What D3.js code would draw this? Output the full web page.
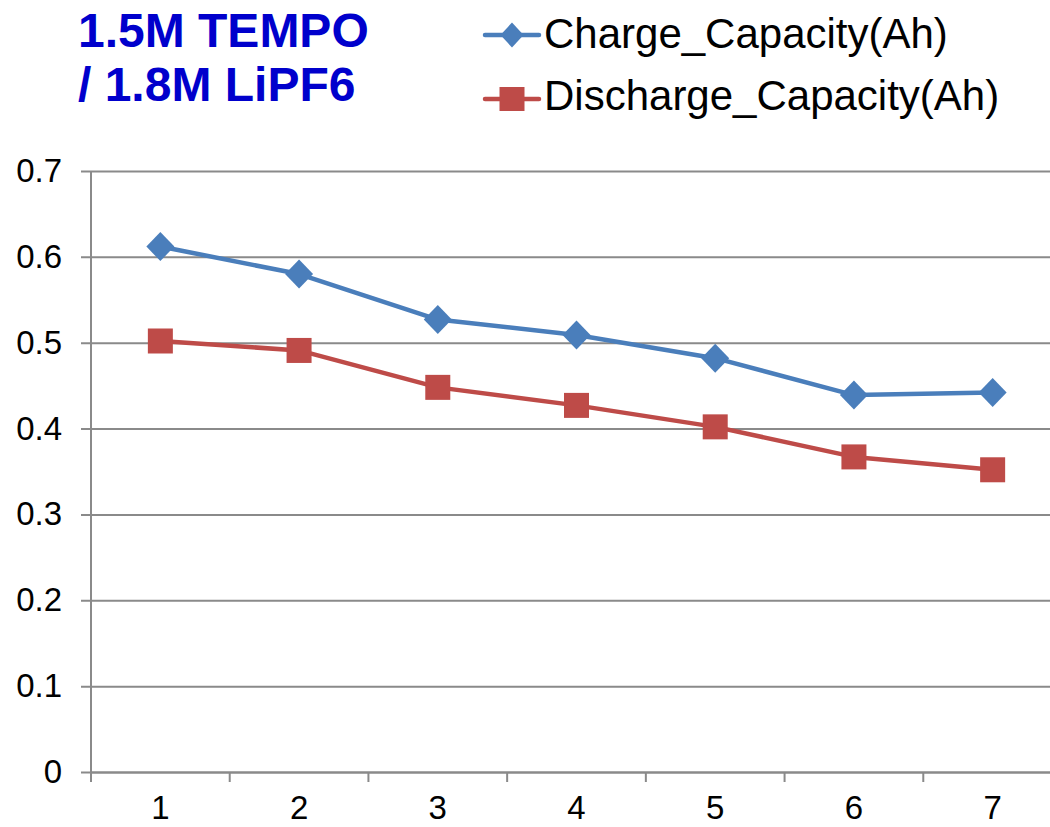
<!DOCTYPE html>
<html>
<head>
<meta charset="utf-8">
<script src="https://cdn.jsdelivr.net/npm/d3@7"></script>
<style>
  html, body { margin: 0; padding: 0; background: #fff; }
  svg { display: block; font-family: "Liberation Sans", Arial, Helvetica, sans-serif; }
</style>
</head>
<body>
<svg id="chart" width="1050" height="827"></svg>
<script>
const categories = ["1", "2", "3", "4", "5", "6", "7"];
const chargeCapacity = [0.612, 0.580, 0.527, 0.509, 0.482, 0.439, 0.442];
const dischargeCapacity = [0.502, 0.491, 0.448, 0.427, 0.402, 0.367, 0.352];
const yTicks = [0, 0.1, 0.2, 0.3, 0.4, 0.5, 0.6, 0.7];
const titleLines = ["1.5M TEMPO", "/ 1.8M LiPF6"];
const seriesNames = ["Charge_Capacity(Ah)", "Discharge_Capacity(Ah)"];

(function () {
const series = [
  { name: seriesNames[0], values: chargeCapacity, color: "#4A7EBB", shape: "diamond" },
  { name: seriesNames[1], values: dischargeCapacity, color: "#BE4B48", shape: "square" }
];

const svg = d3.select("#chart");
const pLeft = 91, pRight = 1062, pTop = 171, pBottom = 772;
const gridColor = "#8a8a8a";
const font = "'Liberation Sans', Arial, sans-serif";

const x = d3.scaleBand().domain(categories).range([pLeft, pRight]).paddingInner(0).paddingOuter(0);
const y = d3.scaleLinear().domain([0, 0.7]).range([pBottom, pTop]);

// Gridlines + y axis
const yAxis = d3.axisLeft(y).tickValues(yTicks)
  .tickFormat(d => d === 0 ? "0" : d3.format(".1f")(d))
  .tickSize(-(pRight - pLeft)).tickSizeOuter(0).tickPadding(29);
const gy = svg.append("g").attr("transform", `translate(${pLeft},0)`).call(yAxis);
gy.select(".domain").remove();
gy.selectAll(".tick line").attr("stroke", gridColor).attr("stroke-width", 2).attr("x1", -10);
gy.selectAll(".tick text").attr("font-size", 33).attr("fill", "#000").attr("font-family", font);

// vertical axis line
svg.append("line").attr("x1", pLeft).attr("x2", pLeft).attr("y1", pTop).attr("y2", pBottom + 10)
  .attr("stroke", gridColor).attr("stroke-width", 2);

// x axis
const xAxis = d3.axisBottom(x).tickSize(0).tickPadding(0);
const gx = svg.append("g").attr("transform", `translate(0,${pBottom})`).call(xAxis);
gx.select(".domain").attr("stroke", gridColor).attr("stroke-width", 2);
gx.selectAll(".tick text").attr("font-size", 33).attr("fill", "#000").attr("font-family", font)
  .attr("dy", null).attr("y", 47);
// x tick marks at category boundaries
const boundaries = categories.map(c => x(c)).concat([x(categories[categories.length - 1]) + x.bandwidth()]);
svg.append("g").selectAll("line").data(boundaries).join("line")
  .attr("x1", d => d).attr("x2", d => d).attr("y1", pBottom).attr("y2", pBottom + 10)
  .attr("stroke", gridColor).attr("stroke-width", 2);

const cx = c => x(c) + x.bandwidth() / 2;

function drawMarker(g, shape, color, px, py, w, h) {
  if (shape === "diamond") {
    g.append("path")
      .attr("d", `M${px},${py - h / 2}L${px + w / 2},${py}L${px},${py + h / 2}L${px - w / 2},${py}Z`)
      .attr("fill", color);
  } else {
    g.append("rect").attr("x", px - w / 2).attr("y", py - h / 2).attr("width", w).attr("height", h)
      .attr("fill", color);
  }
}

const line = d3.line().x(d => cx(d.c)).y(d => y(d.v));
series.forEach(s => {
  const pts = categories.map((c, i) => ({ c, v: s.values[i] }));
  svg.append("path").datum(pts).attr("d", line).attr("fill", "none")
    .attr("stroke", s.color).attr("stroke-width", 4.5).attr("stroke-linejoin", "round");
  const mg = svg.append("g");
  pts.forEach(p => {
    if (s.shape === "diamond") drawMarker(mg, "diamond", s.color, cx(p.c), y(p.v), 28, 29);
    else drawMarker(mg, "square", s.color, cx(p.c), y(p.v), 25, 25);
  });
});

// Title
const title = svg.append("text").attr("x", 78).attr("font-size", 48).attr("font-weight", "bold")
  .attr("fill", "#0000CC").attr("font-family", font);
titleLines.forEach((t, i) => {
  title.append("tspan").attr("x", 78).attr("y", 47 + i * 54).text(t);
});

// Legend
const legendY = [35, 99];
const legendText = [48, 110];
series.forEach((s, i) => {
  const g = svg.append("g");
  g.append("line").attr("x1", 485).attr("x2", 539).attr("y1", legendY[i]).attr("y2", legendY[i])
    .attr("stroke", s.color).attr("stroke-width", 4.5).attr("stroke-linecap", "round");
  if (s.shape === "diamond") drawMarker(g, "diamond", s.color, 512, legendY[i], 23, 25);
  else drawMarker(g, "square", s.color, 512, legendY[i], 25, 24);
  g.append("text").attr("x", 544).attr("y", legendText[i]).attr("font-size", 42)
    .attr("fill", "#000").attr("font-family", font).text(s.name);
});
})();
</script>
</body>
</html>
